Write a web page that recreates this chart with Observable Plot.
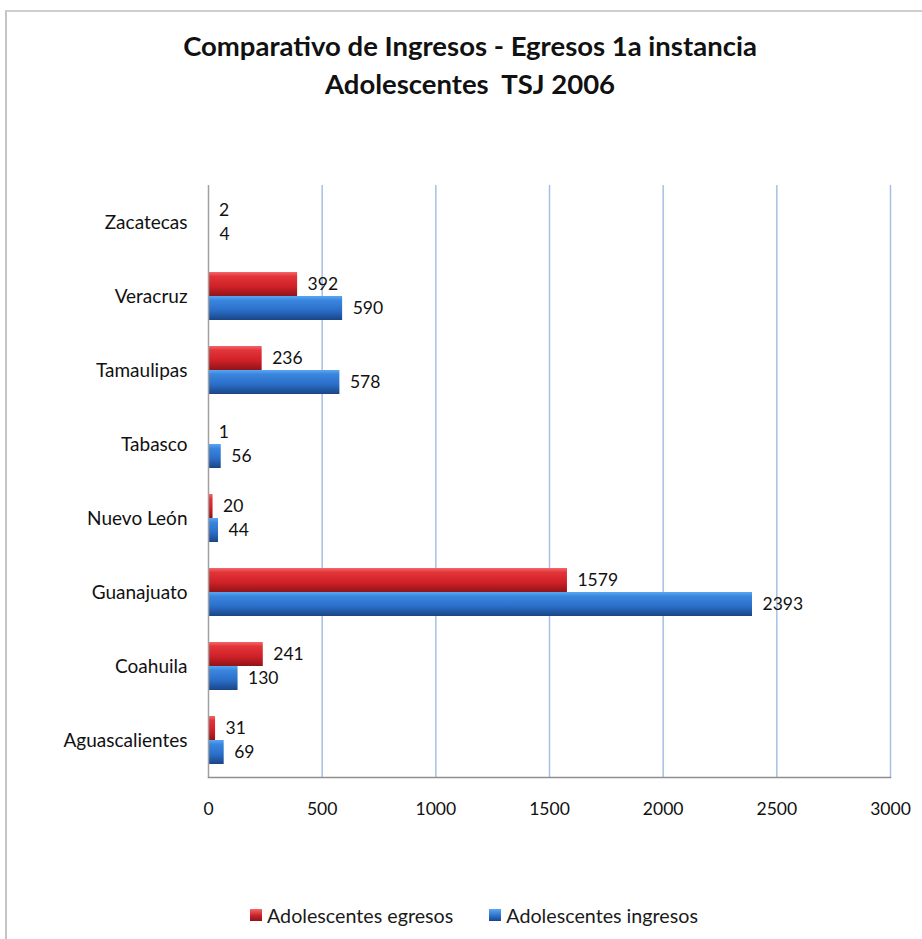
<!DOCTYPE html>
<html>
<head>
<meta charset="utf-8">
<script src="https://cdn.jsdelivr.net/npm/d3@7"></script>
<script src="https://cdn.jsdelivr.net/npm/@observablehq/plot@0.6"></script>
<style>
  html, body { margin: 0; padding: 0; background: #fff; }
  #wrap { position: relative; width: 922px; height: 939px; overflow: hidden; font-family: Lato, "Open Sans", sans-serif; color: #111; }
  #frame { position: absolute; left: 5px; top: 10px; width: 940px; height: 960px; border-top: 2px solid #cfcfcf; border-left: 2px solid #c4c4c4; }
  #title { position: absolute; left: 0; top: 27px; width: 940px; text-align: center; font-weight: bold; font-size: 27.5px; line-height: 38px; color: #111; }
  #chart { position: absolute; left: 0; top: 160px; }
  #legend { position: absolute; top: 902px; left: 250px; font-size: 19.7px; white-space: nowrap; color: #1a1a1a; }
  #legend .item { display: inline-flex; align-items: center; margin-right: 36px; }
  #legend .sw { display: inline-block; width: 12px; height: 12px; margin-right: 5px; }
</style>
</head>
<body>
<div id="wrap">
  <div id="frame"></div>
  <div id="title">Comparativo de Ingresos - Egresos 1a instancia<br>Adolescentes&nbsp; TSJ 2006</div>
  <div id="chart"></div>
  <div id="legend"></div>
</div>
<script>
const categories = ["Zacatecas", "Veracruz", "Tamaulipas", "Tabasco", "Nuevo León", "Guanajuato", "Coahuila", "Aguascalientes"];
const egresos = [2, 392, 236, 1, 20, 1579, 241, 31];
const ingresos = [4, 590, 578, 56, 44, 2393, 130, 69];
const seriesKeys = ["egresos", "ingresos"];
const seriesNames = ["Adolescentes egresos", "Adolescentes ingresos"];
const xTicks = [0, 500, 1000, 1500, 2000, 2500, 3000];

const rows = [];
categories.forEach((c, i) => {
  rows.push({estado: c, serie: "egresos", value: egresos[i]});
  rows.push({estado: c, serie: "ingresos", value: ingresos[i]});
});

const fills = {egresos: "url(#gradRed)", ingresos: "url(#gradBlue)"};

const plot = Plot.plot({
  width: 922,
  height: 669,
  marginLeft: 208,
  marginRight: 32,
  marginTop: 23,
  marginBottom: 50,
  style: {fontFamily: "Lato, 'Open Sans', sans-serif", fontSize: "19px", color: "#111", background: "transparent"},
  x: {domain: [0, 3000], ticks: xTicks, tickSize: 0, tickPadding: 25, label: null, tickFormat: d => String(d)},
  y: {domain: seriesKeys, paddingInner: 0, paddingOuter: 0.49, axis: null},
  fy: {domain: categories, padding: 0, label: null, axis: "left", tickSize: 0, tickPadding: 21},
  marks: [
    Plot.ruleX(xTicks.slice(1), {stroke: "#a6bfe2", strokeWidth: 1.5}),
    Plot.barX(rows, {x: "value", y: "serie", fy: "estado", fill: d => fills[d.serie]}),
    Plot.ruleX([0], {stroke: "#a0a0a0", strokeWidth: 1.5}),
    Plot.frame({anchor: "bottom", facetAnchor: "bottom", stroke: "#8f8f8f", strokeWidth: 1.5}),
    Plot.text(rows, {x: "value", y: "serie", fy: "estado", text: d => String(d.value), dx: 10, textAnchor: "start", fill: "#111", fontSize: 17.5})
  ]
});

// x tick labels a bit smaller than the category labels (digits are wide in this font)
const svg = d3.select(plot.tagName.toLowerCase() === "svg" ? plot : plot.querySelector("svg"));
svg.selectAll("[aria-label='x-axis tick label']").attr("font-size", 17.5);

// gradient definitions for the bars (colour styling)
const defs = svg.insert("defs", ":first-child");
function grad(id, stops) {
  const g = defs.append("linearGradient").attr("id", id).attr("x1", 0).attr("y1", 0).attr("x2", 0).attr("y2", 1);
  stops.forEach(([o, c]) => g.append("stop").attr("offset", o).attr("stop-color", c));
}
grad("gradRed", [[0, "#f4666a"], [0.18, "#e2353a"], [0.6, "#cf2127"], [1, "#8f1418"]]);
grad("gradBlue", [[0, "#5aa6f4"], [0.18, "#3a86de"], [0.6, "#2a6ec8"], [1, "#1a4586"]]);

document.getElementById("chart").appendChild(plot);

// legend
const legend = d3.select("#legend");
seriesKeys.forEach((k, i) => {
  const item = legend.append("span").attr("class", "item");
  item.append("span").attr("class", "sw")
    .style("background", k === "egresos" ? "linear-gradient(#f4666a, #c41e24 60%, #8f1418)" : "linear-gradient(#5aa6f4, #2a6ec8 60%, #1a4586)");
  item.append("span").text(seriesNames[i]);
});
</script>
</body>
</html>
